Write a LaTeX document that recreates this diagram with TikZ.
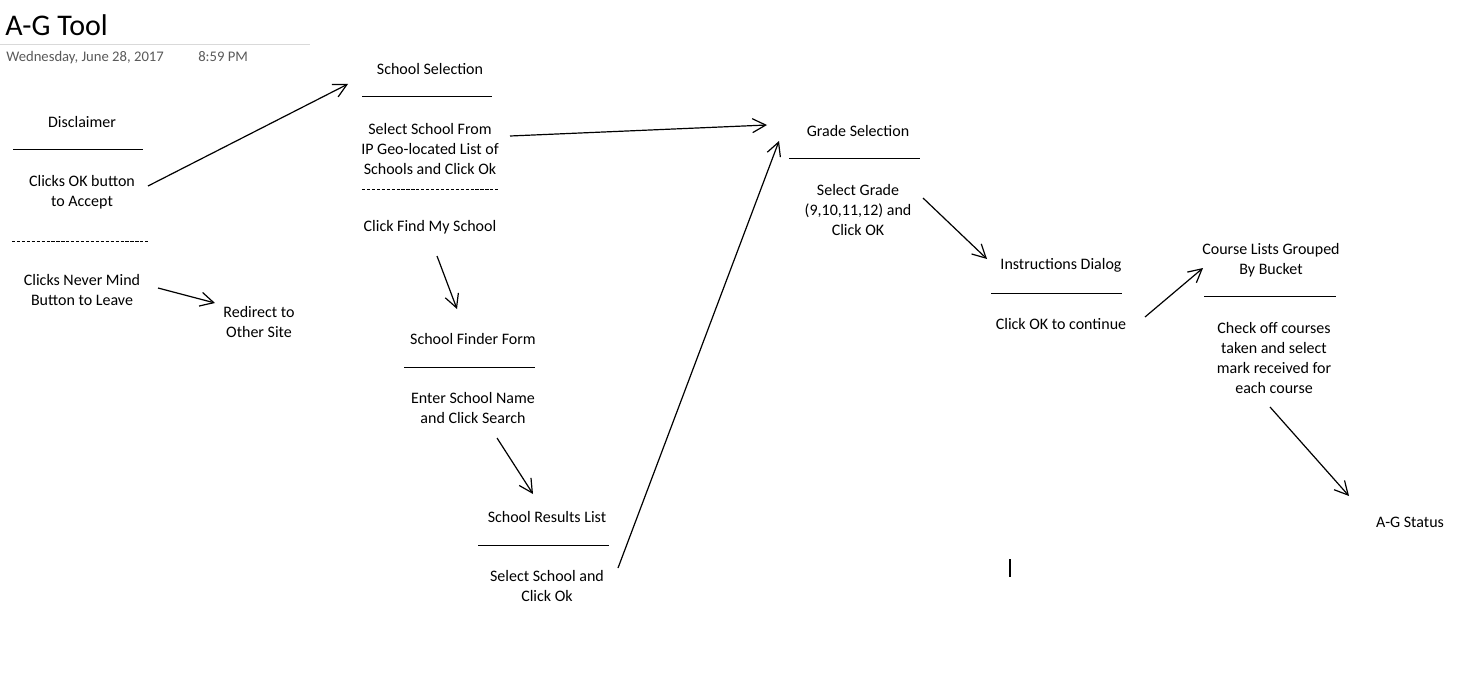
\documentclass[tikz,border=0pt]{standalone}
\usepackage{fontspec}
\setmainfont{Carlito}
\usepackage{xcolor}
\usetikzlibrary{positioning}
\usetikzlibrary{arrows.meta}
\definecolor{dategray}{RGB}{89,89,89}
\definecolor{rulegray}{RGB}{217,217,217}

\begin{document}
\begin{tikzpicture}[x=0.75pt, y=-0.75pt]
\tikzstyle{txt} = [align=center, inner sep=0pt, yshift=-0.75pt, font=\fontsize{12}{15}\selectfont]
\tikzstyle{hdr} = [anchor=base west, inner sep=0pt]
\tikzstyle{uline} = [draw, line width=0.75pt]
\tikzstyle{dline} = [draw, line width=0.75pt, dash pattern=on 2.4pt off 1.3pt]
\tikzstyle{line} = [draw, line width=0.9pt, -{Straight Barb[length=10pt, width=10.5pt]}]

\useasboundingbox (0,0) rectangle (1481,685);

% page header
\node [hdr, font=\fontsize{22.5}{27}\selectfont] (title) at (5,36) {A-G Tool};
\draw [rulegray, line width=0.75pt] (0,45) -- (310,45);
\node [hdr, font=\fontsize{11}{13}\selectfont, text=dategray] (date) at (6,62) {Wednesday, June 28, 2017};
\node [hdr, font=\fontsize{11}{13}\selectfont, text=dategray] (time) at (198,62) {8:59 PM};

% disclaimer
\node [txt] (dis) at (82,121) {Disclaimer};
\node [txt] (disok) at (82,191) {Clicks OK button\\to Accept};
\node [txt] (disnm) at (82,289) {Clicks Never Mind\\Button to Leave};
\path [uline] ([shift={(-69,27)}]dis.center) -- ++(130,0);
\path [dline] ([shift={(-70,49)}]disok.center) -- ++(138,0);
\node [txt] (redir) at (259,321) {Redirect to\\Other Site};

% school selection
\node [txt] (ss) at (430,68) {School Selection};
\node [txt] (ssbody) at (430,148) {Select School From\\IP Geo-located List of\\Schools and Click Ok};
\node [txt] (ssfind) at (430,226) {Click Find My School};
\path [uline] ([shift={(-68,28)}]ss.center) -- ++(130,0);
\path [dline] ([shift={(-68,40)}]ssbody.center) -- ++(136,0);

% school finder
\node [txt] (finder) at (473,338) {School Finder Form};
\node [txt] (finderbody) at (473,407) {Enter School Name\\and Click Search};
\path [uline] ([shift={(-69,28)}]finder.center) -- ++(131,0);

% school results
\node [txt] (res) at (547,516) {School Results List};
\node [txt] (resbody) at (547,585) {Select School and\\Click Ok};
\path [uline] ([shift={(-69,28)}]res.center) -- ++(131,0);

% grade selection
\node [txt] (grade) at (858,130) {Grade Selection};
\node [txt] (gradebody) at (858,209) {Select Grade\\(9,10,11,12) and\\Click OK};
\path [uline] ([shift={(-69,27)}]grade.center) -- ++(131,0);

% instructions
\node [txt] (instr) at (1061,264) {Instructions Dialog};
\node [txt] (instrbody) at (1061,323) {Click OK to continue};
\path [uline] ([shift={(-70,28)}]instr.center) -- ++(131,0);

% course lists
\node [txt] (course) at (1271,259) {Course Lists Grouped\\By Bucket};
\node [txt] (coursebody) at (1274,357) {Check off courses\\taken and select\\mark received for\\each course};
\path [uline] ([shift={(-67,36)}]course.center) -- ++(132,0);

\node [txt] (status) at (1410,521) {A-G Status};
\draw [line width=0.8pt] (1010,559) -- (1010,577);

\path [line] ([shift={(66,-6)}]disok.center) -- ([shift={(-82,15)}]ss.center);
\path [line] ([shift={(76,-2)}]disnm.center) -- ([shift={(-44,-19)}]redir.center);
\path [line] ([shift={(80,-13)}]ssbody.center) -- ([shift={(-91,-6)}]grade.center);
\path [line] ([shift={(7,29)}]ssfind.center) -- ([shift={(-16,-30)}]finder.center);
\path [line] ([shift={(24,30)}]finderbody.center) -- ([shift={(-14,-23)}]res.center);
\path [line] ([shift={(71,-18)}]resbody.center) -- ([shift={(-79,10)}]grade.center);
\path [line] ([shift={(65,-12)}]gradebody.center) -- ([shift={(-74,-6)}]instr.center);
\path [line] ([shift={(84,-7)}]instrbody.center) -- ([shift={(-68,8)}]course.center);
\path [line] ([shift={(-4,49)}]coursebody.center) -- ([shift={(-61,-26)}]status.center);
\end{tikzpicture}
\end{document}
